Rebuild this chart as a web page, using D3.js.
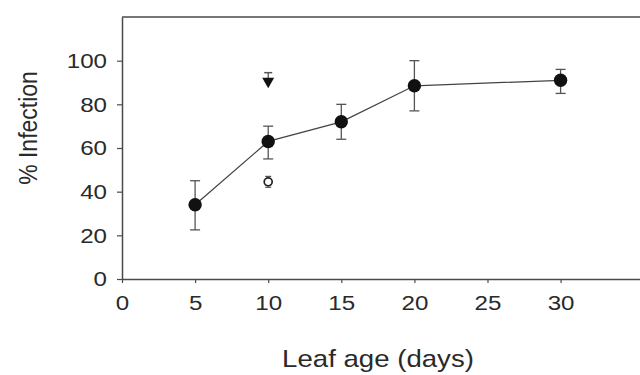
<!DOCTYPE html>
<html>
<head>
<meta charset="utf-8">
<script src="https://cdn.jsdelivr.net/npm/d3@7"></script>
<style>
  html, body { margin: 0; padding: 0; background: #fff; }
  svg { display: block; font-family: "Liberation Sans", Arial, sans-serif; }
</style>
</head>
<body>
<div id="chart"></div>
<script>
// leaf age (days) and % infection
const ages = [5, 10, 15, 20, 30]
const infection = [34, 63, 72, 88.5, 91]
const errLow = [22.5, 55, 64, 77, 85]
const errHigh = [45, 70, 80, 100, 96]

// the two single points at 10 days
const triAge = [10]
const triValue = [91]
const triErrHigh = [94.5]
const openAge = [10]
const openValue = [44.5]
const openErr = [[42, 47]]

const xTicks = [0, 5, 10, 15, 20, 25, 30]
const yTicks = [0, 20, 40, 60, 80, 100]

const W = 640, H = 375
const m = { top: 17, right: 0, bottom: 96, left: 122 }
const stretch = 1.15 // the picture is a bit wider than tall

const svg = d3.select('#chart').append('svg')
  .attr('width', W)
  .attr('height', H)

const x = d3.scaleLinear().domain([0, 35.5]).range([m.left, W + 1])
const y = d3.scaleLinear().domain([0, 120]).range([H - m.bottom, m.top])

const axisCol = '#4a4a4a'
const textCol = '#2a2a2a'

// frame: top line (right side is cut off)
svg.append('line')
  .attr('x1', m.left).attr('x2', W)
  .attr('y1', y(120)).attr('y2', y(120))
  .attr('stroke', axisCol).attr('stroke-width', 1.5)

// y axis
const gy = svg.append('g')
  .attr('transform', `translate(${m.left},0)`)
  .call(d3.axisLeft(y).tickValues(yTicks).tickSize(5).tickSizeOuter(0).tickPadding(8))
gy.select('.domain').attr('stroke', axisCol).attr('stroke-width', 1.5)
gy.selectAll('.tick line').attr('stroke', axisCol).attr('stroke-width', 1.2)
gy.selectAll('.tick text')
  .attr('font-size', 21)
  .attr('fill', textCol)
  .attr('font-family', '"Liberation Sans", Arial, sans-serif')
  .attr('x', -15 / stretch)
  .attr('transform', `scale(${stretch},1)`)

// x axis
const gx = svg.append('g')
  .attr('transform', `translate(0,${y(0)})`)
  .call(d3.axisBottom(x).tickValues(xTicks).tickSize(4).tickSizeOuter(0).tickPadding(12))
gx.select('.domain').attr('stroke', axisCol).attr('stroke-width', 1.5)
gx.selectAll('.tick line').attr('stroke', axisCol).attr('stroke-width', 1.2)
gx.selectAll('.tick text')
  .attr('font-size', 21)
  .attr('fill', textCol)
  .attr('font-family', '"Liberation Sans", Arial, sans-serif')
  .attr('transform', `scale(${stretch},1)`)

// axis titles
svg.append('text')
  .attr('transform', `translate(378,367) scale(${stretch},1)`)
  .attr('text-anchor', 'middle')
  .attr('font-size', 24)
  .attr('fill', textCol)
  .text('Leaf age (days)')

svg.append('text')
  .attr('transform', `translate(37,128) rotate(-90) scale(1,${stretch})`)
  .attr('text-anchor', 'middle')
  .attr('font-size', 23)
  .attr('fill', textCol)
  .text('% Infection')

const pts = ages.map((a, i) => ({ a, v: infection[i], lo: errLow[i], hi: errHigh[i] }))

// error bars
const errCol = '#555'
const cap = 5
const eb = svg.append('g').attr('stroke', errCol).attr('stroke-width', 1.3)
pts.forEach(d => {
  eb.append('line').attr('x1', x(d.a)).attr('x2', x(d.a)).attr('y1', y(d.lo)).attr('y2', y(d.hi))
  eb.append('line').attr('x1', x(d.a) - cap).attr('x2', x(d.a) + cap).attr('y1', y(d.lo)).attr('y2', y(d.lo))
  eb.append('line').attr('x1', x(d.a) - cap).attr('x2', x(d.a) + cap).attr('y1', y(d.hi)).attr('y2', y(d.hi))
})

// connecting line
svg.append('path')
  .datum(pts)
  .attr('fill', 'none')
  .attr('stroke', '#444')
  .attr('stroke-width', 1.3)
  .attr('d', d3.line().x(d => x(d.a)).y(d => y(d.v)))

// filled circles
svg.append('g').selectAll('circle')
  .data(pts)
  .join('circle')
  .attr('cx', d => x(d.a))
  .attr('cy', d => y(d.v))
  .attr('r', 6.7)
  .attr('fill', '#111')

// inverted triangle with small error bar
triAge.forEach((a, i) => {
  const cx = x(a), cy = y(triValue[i])
  svg.append('line')
    .attr('x1', cx).attr('x2', cx).attr('y1', cy).attr('y2', y(triErrHigh[i]))
    .attr('stroke', errCol).attr('stroke-width', 1.3)
  svg.append('line')
    .attr('x1', cx - 4).attr('x2', cx + 4).attr('y1', y(triErrHigh[i])).attr('y2', y(triErrHigh[i]))
    .attr('stroke', errCol).attr('stroke-width', 1.5)
  svg.append('path')
    .attr('d', d3.symbol(d3.symbolTriangle, 62)())
    .attr('transform', `translate(${cx},${cy + 1}) rotate(180)`)
    .attr('fill', '#111')
})

// open circle with small error bar
openAge.forEach((a, i) => {
  const cx = x(a)
  const [lo, hi] = openErr[i]
  svg.append('line')
    .attr('x1', cx - 3).attr('x2', cx + 3).attr('y1', y(lo)).attr('y2', y(lo))
    .attr('stroke', errCol).attr('stroke-width', 1.2)
  svg.append('line')
    .attr('x1', cx - 3).attr('x2', cx + 3).attr('y1', y(hi)).attr('y2', y(hi))
    .attr('stroke', errCol).attr('stroke-width', 1.2)
  svg.append('circle')
    .attr('cx', cx).attr('cy', y(openValue[i]))
    .attr('r', 4)
    .attr('fill', '#fff')
    .attr('stroke', '#222')
    .attr('stroke-width', 1.7)
})
</script>
</body>
</html>
